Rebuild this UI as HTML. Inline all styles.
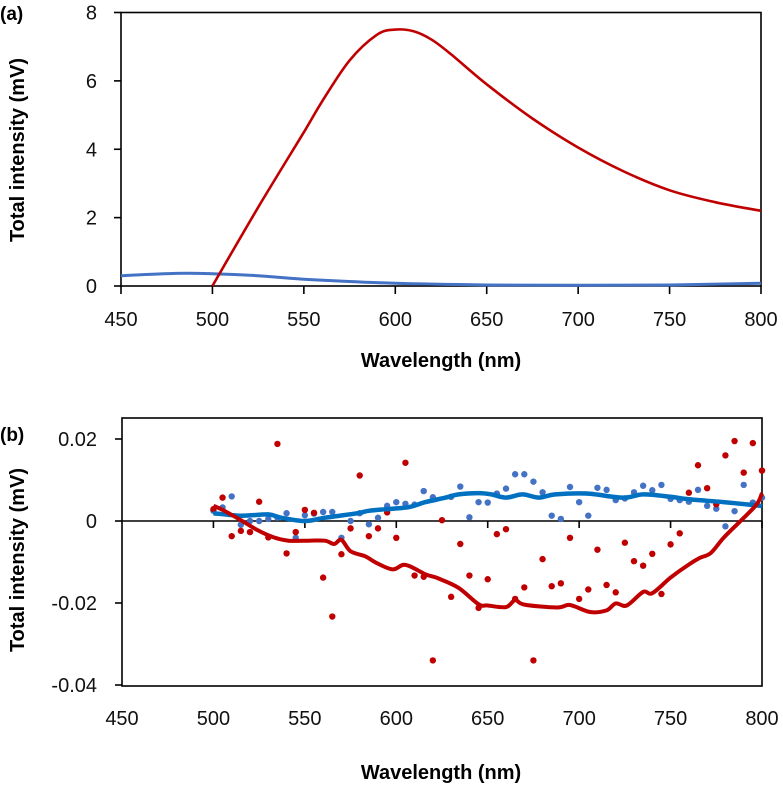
<!DOCTYPE html>
<html><head><meta charset="utf-8"><style>
html,body{margin:0;padding:0;background:#fff;}
svg{display:block;font-family:"Liberation Sans",sans-serif;}
</style></head><body>
<svg id="chart" width="783" height="786" viewBox="0 0 783 786" xmlns="http://www.w3.org/2000/svg"></svg>
<script>
// ---------- Data ----------
const xTicks = [450,500,550,600,650,700,750,800];
const aYTicks = [0,2,4,6,8];
const bYTicks = [0.02,0,-0.02,-0.04];
const bYTickLabels = ["0.02","0","-0.02","-0.04"];

const aRedX = [500,525,550,560,575,590,600,610,620,630,650,675,700,725,750,775,800];
const aRedY = [0,2.3,4.5,5.4,6.6,7.35,7.5,7.45,7.2,6.8,5.9,4.9,4.05,3.35,2.8,2.45,2.2];
const aBlueX = [450,480,500,525,550,600,650,700,750,800];
const aBlueY = [0.3,0.37,0.36,0.3,0.2,0.08,0.03,0.02,0.03,0.08];

const bRedDotX = [500,505,510,515,520,525,530,535,540,545,550,555,560,565,570,575,580,585,590,595,600,605,610,615,620,625,630,635,640,645,650,655,660,665,670,675,680,685,690,695,700,705,710,715,720,725,730,735,740,745,750,755,760,765,770,775,780,785,790,795,800];
const bRedDotY = [0.0029,0.0057,-0.0037,-0.0024,-0.0027,0.0047,-0.004,0.0188,-0.0079,-0.0027,0.0027,0.002,-0.0138,-0.0233,-0.0081,-0.0018,0.0111,-0.0037,-0.0018,0.0021,-0.0041,0.0142,-0.0133,-0.0136,-0.034,0.0002,-0.0185,-0.0056,-0.0133,-0.0212,-0.0142,-0.0032,-0.002,-0.019,-0.0162,-0.034,-0.0093,-0.0159,-0.0152,-0.0041,-0.019,-0.0167,-0.007,-0.0156,-0.0174,-0.0053,-0.0098,-0.0109,-0.008,-0.0178,-0.0057,-0.003,0.0069,0.0136,0.008,0.0041,0.016,0.0195,0.0118,0.019,0.0123];
const bBlueDotX = [500,505,510,515,520,525,530,535,540,545,550,555,560,565,570,575,580,585,590,595,600,605,610,615,620,630,635,640,645,650,655,660,665,670,675,680,685,690,695,700,705,710,715,720,725,730,735,740,745,750,755,760,765,770,775,780,785,790,795,800];
const bBlueDotY = [0.0025,0.0033,0.006,-0.0009,0,0,0.0005,0.0008,0.0019,-0.0041,0.0014,0.0018,0.0022,0.0022,-0.0041,0,0.0019,-0.0008,0.0008,0.0037,0.0046,0.0042,0.004,0.0073,0.0058,0.0059,0.0084,0.0009,0.0046,0.0045,0.0067,0.0079,0.0114,0.0114,0.0096,0.007,0.0013,0.0005,0.0083,0.0046,0.0013,0.0081,0.0076,0.0051,0.0055,0.007,0.0086,0.0075,0.0088,0.0054,0.0051,0.0047,0.0076,0.0037,0.003,-0.0013,0.0024,0.0088,0.0045,0.0057];
const bRedLineX = [500,505,515,524,533,541,552,561,566,570,575,583,589,598,605,616,623,634,645,650,660,665,670,688,695,706,715,720,726,735,740,750,760,766,772,779,788,797,800];
const bRedLineY = [0.0037,0.0027,0.0002,-0.0022,-0.004,-0.0048,-0.0048,-0.0048,-0.0056,-0.0046,-0.0074,-0.0086,-0.0102,-0.0118,-0.0107,-0.013,-0.014,-0.0163,-0.0203,-0.0206,-0.021,-0.0193,-0.0204,-0.0211,-0.0205,-0.0222,-0.0218,-0.0201,-0.0206,-0.0173,-0.0176,-0.0138,-0.0106,-0.009,-0.0078,-0.0041,-0.0001,0.004,0.0068];
const bBlueLineX = [500,515,530,537,550,561,579,585,598,607,616,627,634,645,652,660,669,678,687,704,724,735,750,760,779,797,800];
const bBlueLineY = [0.0019,0.0013,0.0016,0.0008,0,0.0008,0.0019,0.0025,0.003,0.0034,0.0046,0.0057,0.0065,0.0068,0.0065,0.0057,0.0065,0.0057,0.0065,0.0067,0.0057,0.0065,0.0059,0.0053,0.0046,0.0038,0.0036];

// ---------- Helpers ----------
const NS = "http://www.w3.org/2000/svg";
const svg = document.getElementById('chart');
function mk(tag, attrs, parent, text){
  const e = document.createElementNS(NS, tag);
  for (const k in attrs) e.setAttribute(k, attrs[k]);
  if (text !== undefined) e.textContent = text;
  (parent||svg).appendChild(e);
  return e;
}
const X0 = 121, X1 = 761;
function xs(v){ return X0 + (v-450)/350*(X1-X0); }
function yaS(v){ return 286 - v/8*(286-12.5); }
function ybS(v){ return 521 - v/0.02*82; }
function smoothPath(xa, ya, fx, fy){
  const p = xa.map((x,i)=>[fx(x), fy(ya[i])]);
  let d = "M"+p[0][0].toFixed(1)+","+p[0][1].toFixed(1);
  for (let i=0;i<p.length-1;i++){
    const p0=p[Math.max(0,i-1)], p1=p[i], p2=p[i+1], p3=p[Math.min(p.length-1,i+2)];
    const c1=[p1[0]+(p2[0]-p0[0])/6, p1[1]+(p2[1]-p0[1])/6];
    const c2=[p2[0]-(p3[0]-p1[0])/6, p2[1]-(p3[1]-p1[1])/6];
    d += " C"+c1[0].toFixed(1)+","+c1[1].toFixed(1)+" "+c2[0].toFixed(1)+","+c2[1].toFixed(1)+" "+p2[0].toFixed(1)+","+p2[1].toFixed(1);
  }
  return d;
}

// ---------- Panel (a) ----------
const ga = mk('g', {});


let t = mk('text', {x:0, y:20, 'font-size':19, 'font-weight':'bold'}, ga, '(a)');


let r = mk('rect', {x:X0, y:12.5, width:X1-X0, height:286-12.5, fill:'none', stroke:'#000', 'stroke-width':1.6}, ga);


aYTicks.forEach(v=>{
  const y = yaS(v);
  const l = mk('line', {x1:X0-7, x2:X0, y1:y, y2:y, stroke:'#000', 'stroke-width':1.6}, ga);
  
  
  const tx = mk('text', {x:97, y:y+7, 'font-size':20, 'text-anchor':'end', fill:'#111'}, ga, String(v));
  
  
});
xTicks.forEach(v=>{
  const x = xs(v);
  const l = mk('line', {x1:x, x2:x, y1:286, y2:294, stroke:'#000', 'stroke-width':1.6}, ga);
  
  
  const tx = mk('text', {x:x, y:326, 'font-size':20, 'text-anchor':'middle', fill:'#111'}, ga, String(v));
  
  
});
t = mk('text', {x:441, y:367, 'font-size':20, 'font-weight':'bold', 'text-anchor':'middle'}, ga, 'Wavelength (nm)');


t = mk('text', {x:0, y:0, 'font-size':20, 'font-weight':'bold', 'text-anchor':'middle', transform:'translate(24,150) rotate(-90)'}, ga, 'Total intensity (mV)');


let p = mk('path', {d:smoothPath(aBlueX, aBlueY, xs, yaS), fill:'none', stroke:'#4472C4', 'stroke-width':3}, ga);


p = mk('path', {d:smoothPath(aRedX, aRedY, xs, yaS), fill:'none', stroke:'#C00000', 'stroke-width':2.6}, ga);



// ---------- Panel (b) ----------
const gb = mk('g', {});


t = mk('text', {x:0, y:441, 'font-size':19, 'font-weight':'bold'}, gb, '(b)');


r = mk('rect', {x:X0+1, y:418, width:X1-X0, height:686-418, fill:'none', stroke:'#000', 'stroke-width':1.6}, gb);


bYTicks.forEach((v,i)=>{
  const y = ybS(v);
  const l = mk('line', {x1:X0-6, x2:X0+1, y1:y, y2:y, stroke:'#000', 'stroke-width':1.6}, gb);
  
  
  const tx = mk('text', {x:97, y:y+7, 'font-size':20, 'text-anchor':'end', fill:'#111'}, gb, bYTickLabels[i]);
  
  
});
let zl = mk('line', {x1:X0+1, x2:X1+1, y1:ybS(0), y2:ybS(0), stroke:'#000', 'stroke-width':1.6}, gb);


xTicks.forEach(v=>{
  const x = xs(v)+1;
  if (v>450){
    const l = mk('line', {x1:x, x2:x, y1:ybS(0), y2:ybS(0)+7, stroke:'#000', 'stroke-width':1.6}, gb);
    
    
  }
  const tx = mk('text', {x:x, y:725, 'font-size':20, 'text-anchor':'middle', fill:'#111'}, gb, String(v));
  
  
});
t = mk('text', {x:441, y:779, 'font-size':20, 'font-weight':'bold', 'text-anchor':'middle'}, gb, 'Wavelength (nm)');


t = mk('text', {x:0, y:0, 'font-size':20, 'font-weight':'bold', 'text-anchor':'middle', transform:'translate(24,560) rotate(-90)'}, gb, 'Total intensity (mV)');



const bx = v => xs(v)+1;
bBlueDotX.forEach((v,i)=>{
  const c = mk('circle', {cx:bx(v), cy:ybS(bBlueDotY[i]), r:3.2, fill:'#4472C4'}, gb);
  
  
});
bRedDotX.forEach((v,i)=>{
  const c = mk('circle', {cx:bx(v), cy:ybS(bRedDotY[i]), r:3.2, fill:'#C00000'}, gb);
  
  
});
p = mk('path', {d:smoothPath(bBlueLineX, bBlueLineY, bx, ybS), fill:'none', stroke:'#0070C0', 'stroke-width':4.5, 'stroke-linejoin':'round'}, gb);


p = mk('path', {d:smoothPath(bRedLineX, bRedLineY, bx, ybS), fill:'none', stroke:'#C00000', 'stroke-width':4, 'stroke-linejoin':'round'}, gb);


</script>
</body></html>
